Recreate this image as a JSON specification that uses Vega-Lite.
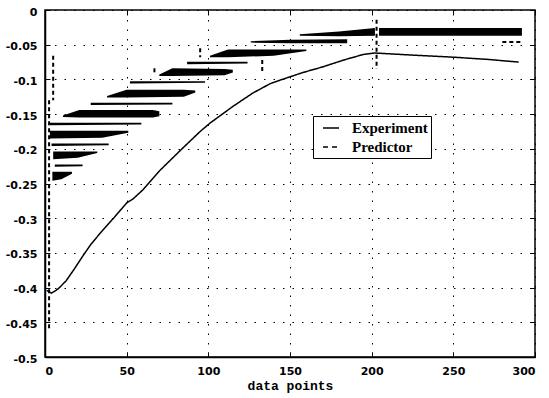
{
  "$schema": "https://vega.github.io/schema/vega-lite/v6.json",
  "width": 490,
  "height": 347,
  "autosize": "none",
  "padding": {"left": 45, "top": 10, "right": 14, "bottom": 41},
  "background": "white",
  "config": {
    "view": {"stroke": "black", "strokeWidth": 1.5},
    "axis": {
      "domainColor": "black",
      "domainWidth": 1.5,
      "tickColor": "black",
      "tickSize": -5,
      "tickWidth": 1,
      "grid": false,
      "gridColor": "black",
      "gridOpacity": 1,
      "gridWidth": 1,
      "gridDash": [1.5, 8],
      "labelFont": "DejaVu Sans",
      "labelFontWeight": "bold",
      "labelFontSize": 11,
      "labelColor": "black",
      "titleFont": "Liberation Mono",
      "titleFontSize": 13,
      "titleFontWeight": "bold",
      "titleColor": "black"
    },
    "legend": {
      "labelFont": "Liberation Serif",
      "labelFontSize": 15,
      "labelFontWeight": "bold",
      "labelColor": "black"
    }
  },
  "datasets": {
    "predictorBands": [
      {"band": 1, "x": 4.5, "lo": -0.246, "hi": -0.233},
      {"band": 1, "x": 10, "lo": -0.244, "hi": -0.233},
      {"band": 1, "x": 16.5, "lo": -0.236, "hi": -0.233},
      {"band": 2, "x": 6, "lo": -0.226, "hi": -0.2225},
      {"band": 2, "x": 23, "lo": -0.225, "hi": -0.2225},
      {"band": 3, "x": 5, "lo": -0.215, "hi": -0.204},
      {"band": 3, "x": 20, "lo": -0.213, "hi": -0.204},
      {"band": 3, "x": 32, "lo": -0.206, "hi": -0.204},
      {"band": 4, "x": 4, "lo": -0.196, "hi": -0.1925},
      {"band": 4, "x": 39, "lo": -0.195, "hi": -0.1925},
      {"band": 5, "x": 3, "lo": -0.185, "hi": -0.174},
      {"band": 5, "x": 35, "lo": -0.184, "hi": -0.174},
      {"band": 5, "x": 51, "lo": -0.177, "hi": -0.174},
      {"band": 6, "x": 3, "lo": -0.166, "hi": -0.1625},
      {"band": 6, "x": 59, "lo": -0.165, "hi": -0.1625},
      {"band": 7, "x": 11, "lo": -0.154, "hi": -0.152},
      {"band": 7, "x": 21, "lo": -0.155, "hi": -0.144},
      {"band": 7, "x": 66, "lo": -0.155, "hi": -0.144},
      {"band": 7, "x": 70, "lo": -0.153, "hi": -0.146},
      {"band": 8, "x": 28, "lo": -0.137, "hi": -0.1335},
      {"band": 8, "x": 78, "lo": -0.136, "hi": -0.1335},
      {"band": 9, "x": 38, "lo": -0.126, "hi": -0.124},
      {"band": 9, "x": 50, "lo": -0.126, "hi": -0.115},
      {"band": 9, "x": 85, "lo": -0.125, "hi": -0.115},
      {"band": 9, "x": 92, "lo": -0.119, "hi": -0.116},
      {"band": 10, "x": 52, "lo": -0.106, "hi": -0.1025},
      {"band": 10, "x": 98, "lo": -0.105, "hi": -0.1025},
      {"band": 11, "x": 70, "lo": -0.095, "hi": -0.093},
      {"band": 11, "x": 78, "lo": -0.095, "hi": -0.084},
      {"band": 11, "x": 110, "lo": -0.094, "hi": -0.085},
      {"band": 11, "x": 115, "lo": -0.09, "hi": -0.086},
      {"band": 12, "x": 87, "lo": -0.078, "hi": -0.0745},
      {"band": 12, "x": 124, "lo": -0.077, "hi": -0.0745},
      {"band": 13, "x": 101, "lo": -0.068, "hi": -0.066},
      {"band": 13, "x": 112, "lo": -0.068, "hi": -0.057},
      {"band": 13, "x": 140, "lo": -0.066, "hi": -0.057},
      {"band": 13, "x": 160, "lo": -0.059, "hi": -0.057},
      {"band": 14, "x": 126, "lo": -0.047, "hi": -0.045},
      {"band": 14, "x": 150, "lo": -0.048, "hi": -0.043},
      {"band": 14, "x": 185, "lo": -0.048, "hi": -0.042},
      {"band": 15, "x": 156, "lo": -0.037, "hi": -0.035},
      {"band": 15, "x": 180, "lo": -0.038, "hi": -0.031},
      {"band": 15, "x": 202, "lo": -0.037, "hi": -0.026},
      {"band": 16, "x": 204.5, "lo": -0.037, "hi": -0.026},
      {"band": 16, "x": 292, "lo": -0.037, "hi": -0.026}
    ],
    "predictorJumps": [
      {"x": 5, "x2": 5, "y": -0.066, "y2": -0.13},
      {"x": 2.5, "x2": 2.5, "y": -0.13, "y2": -0.46},
      {"x": 67, "x2": 67, "y": -0.084, "y2": -0.094},
      {"x": 95, "x2": 95, "y": -0.055, "y2": -0.068},
      {"x": 133, "x2": 133, "y": -0.072, "y2": -0.089},
      {"x": 203, "x2": 203, "y": -0.014, "y2": -0.085},
      {"x": 280, "x2": 292, "y": -0.046, "y2": -0.046}
    ],
    "experiment": [
      {"series": "Experiment", "x": 1, "y": -0.404},
      {"series": "Experiment", "x": 4, "y": -0.408},
      {"series": "Experiment", "x": 8, "y": -0.402},
      {"series": "Experiment", "x": 13, "y": -0.39},
      {"series": "Experiment", "x": 18, "y": -0.373},
      {"series": "Experiment", "x": 23, "y": -0.355},
      {"series": "Experiment", "x": 28, "y": -0.338},
      {"series": "Experiment", "x": 34, "y": -0.321},
      {"series": "Experiment", "x": 42, "y": -0.3},
      {"series": "Experiment", "x": 50, "y": -0.278},
      {"series": "Experiment", "x": 54, "y": -0.272},
      {"series": "Experiment", "x": 60, "y": -0.259},
      {"series": "Experiment", "x": 70, "y": -0.232},
      {"series": "Experiment", "x": 83, "y": -0.202},
      {"series": "Experiment", "x": 95, "y": -0.175},
      {"series": "Experiment", "x": 101, "y": -0.163},
      {"series": "Experiment", "x": 115, "y": -0.139},
      {"series": "Experiment", "x": 127, "y": -0.12},
      {"series": "Experiment", "x": 138, "y": -0.106},
      {"series": "Experiment", "x": 144, "y": -0.101},
      {"series": "Experiment", "x": 158, "y": -0.09},
      {"series": "Experiment", "x": 170, "y": -0.082},
      {"series": "Experiment", "x": 183, "y": -0.072},
      {"series": "Experiment", "x": 195, "y": -0.064},
      {"series": "Experiment", "x": 202, "y": -0.062},
      {"series": "Experiment", "x": 225, "y": -0.065},
      {"series": "Experiment", "x": 250, "y": -0.068},
      {"series": "Experiment", "x": 270, "y": -0.071},
      {"series": "Experiment", "x": 290, "y": -0.075}
    ]
  },
  "resolve": {"axis": {"x": "independent", "y": "independent"}},
  "layer": [
    {
      "data": {"name": "predictorBands"},
      "mark": {"type": "area", "color": "black", "interpolate": "linear"},
      "encoding": {
        "x": {
          "field": "x",
          "type": "quantitative",
          "scale": {"domain": [0, 300], "nice": false, "zero": false},
          "axis": {
            "orient": "bottom",
            "values": [0, 50, 100, 150, 200, 250, 300],
            "grid": true,
            "labelPadding": 13,
            "title": "data points",
            "titlePadding": 3
          }
        },
        "y": {
          "field": "lo",
          "type": "quantitative",
          "scale": {"domain": [-0.5, 0], "nice": false, "zero": false},
          "axis": {
            "orient": "left",
            "values": [-0.5, -0.45, -0.4, -0.35, -0.3, -0.25, -0.2, -0.15, -0.1, -0.05, 0],
            "labelExpr": "'' + datum.value",
            "grid": true,
            "labelPadding": 13,
            "labelOffset": 2,
            "title": null
          }
        },
        "y2": {"field": "hi"},
        "detail": {"field": "band"}
      }
    },
    {
      "data": {"name": "predictorJumps"},
      "mark": {"type": "rule", "color": "black", "strokeWidth": 2, "strokeDash": [4, 3]},
      "encoding": {
        "x": {"field": "x", "type": "quantitative", "axis": null},
        "x2": {"field": "x2"},
        "y": {"field": "y", "type": "quantitative", "axis": null},
        "y2": {"field": "y2"}
      }
    },
    {
      "data": {"name": "experiment"},
      "mark": {"type": "line", "color": "black", "strokeWidth": 1.5},
      "encoding": {
        "x": {
          "field": "x",
          "type": "quantitative",
          "axis": {
            "orient": "top",
            "values": [0, 50, 100, 150, 200, 250, 300],
            "labels": false,
            "domain": false,
            "title": null
          }
        },
        "y": {
          "field": "y",
          "type": "quantitative",
          "axis": {
            "orient": "right",
            "values": [-0.5, -0.45, -0.4, -0.35, -0.3, -0.25, -0.2, -0.15, -0.1, -0.05, 0],
            "labels": false,
            "domain": false,
            "title": null
          }
        },
        "strokeDash": {
          "field": "series",
          "type": "nominal",
          "scale": {"domain": ["Experiment", "Predictor"], "range": [[1, 0], [5, 4]]},
          "legend": {
            "title": null,
            "orient": "none",
            "legendX": 268,
            "legendY": 106,
            "padding": 3,
            "fillColor": "white",
            "strokeColor": "black",
            "symbolType": "stroke",
            "symbolSize": 256,
            "symbolStrokeColor": "black",
            "symbolStrokeWidth": 1.5,
            "symbolOffset": 6,
            "labelOffset": 12,
            "rowPadding": 2
          }
        }
      }
    }
  ]
}
